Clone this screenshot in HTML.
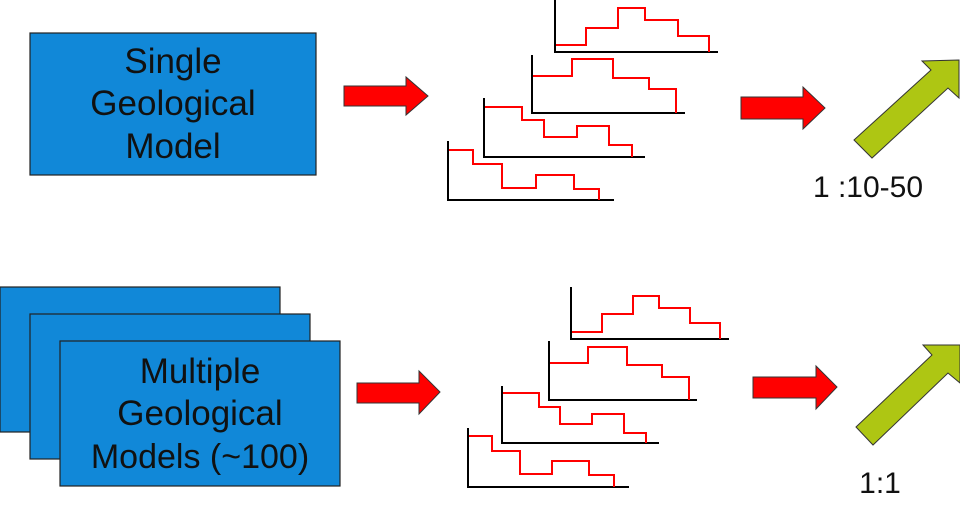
<!DOCTYPE html>
<html><head><meta charset="utf-8"><style>
html,body{margin:0;padding:0;background:#fff;}
svg{display:block;font-family:"Liberation Sans",sans-serif;}
</style></head><body>
<svg width="960" height="518" viewBox="0 0 960 518" xmlns="http://www.w3.org/2000/svg">
<g>
<rect x="30" y="33" width="286" height="142" fill="#1188d8" stroke="#222" stroke-width="1.2"/>
<text x="173" y="73" font-size="35" text-anchor="middle" fill="#111">Single</text>
<text x="173" y="115" font-size="35" text-anchor="middle" fill="#111">Geological</text>
<text x="173" y="158" font-size="35" text-anchor="middle" fill="#111">Model</text>
</g>
<g>
<rect x="0" y="287" width="280" height="145" fill="#1188d8" stroke="#222" stroke-width="1.2"/>
<rect x="30" y="314" width="280" height="145" fill="#1188d8" stroke="#222" stroke-width="1.2"/>
<rect x="60" y="341" width="280" height="145" fill="#1188d8" stroke="#222" stroke-width="1.2"/>
<text x="200" y="383" font-size="35" text-anchor="middle" fill="#111">Multiple</text>
<text x="200" y="425" font-size="35" text-anchor="middle" fill="#111">Geological</text>
<text x="200" y="468" font-size="34" text-anchor="middle" fill="#111">Models (~100)</text>
</g>
<g fill="#ff0000" stroke="#333" stroke-width="1">
<polygon points="344,86 406,86 406,77 428,96 406,115 406,106 344,106"/>
<polygon points="741,97 803,97 803,87 825,108 803,129 803,119 741,119"/>
<polygon points="357,383 419,383 419,371 440,392 419,414 419,403 357,403"/>
<polygon points="753,377 816,377 816,366 837,387 816,409 816,398 753,398"/>
</g>
<g fill="#aec613" stroke="#333" stroke-width="1">
<polygon points="854,140 931,70 922,61 959,60 959,98 948,88 872,158"/>
<polygon points="856,427 932,355 923,345 960,345 960,383 948,373 873,445"/>
</g>
<text x="868" y="197" font-size="30" text-anchor="middle" fill="#111">1 :10-50</text>
<text x="880" y="493" font-size="30" text-anchor="middle" fill="#111">1:1</text>
<g id="charts" fill="none"></g>
</svg>
<script>
// each mini chart: axis origin & extents, step x breaks, step y levels
const chartAxes=[[555,0,52,718],[532,55,113,685],[484,98,157,645],[448,141,200,614],
 [571,287,339,729],[549,341,400,697],[502,386,443,659],[468,428,487,629]];
const stepX=[[556,586,618,645,678,709],[533,572,613,649,676],[485,522,544,577,609,632],[449,473,502,536,574,599],
 [572,602,633,659,690,720],[550,588,627,662,689],[503,539,560,592,624,646],[469,492,520,552,589,614]];
const stepY=[[45,28,8,20,36],[76,59,78,89],[107,120,137,126,145],[150,164,188,175,189],
 [332,314,296,308,323],[363,347,365,377],[393,407,424,414,433],[436,451,474,461,475]];
const g=document.getElementById('charts');
const NS='http://www.w3.org/2000/svg';
chartAxes.forEach((a,i)=>{
  const ax=document.createElementNS(NS,'path');
  ax.setAttribute('d',`M${a[0]},${a[1]}V${a[2]}H${a[3]}`);
  ax.setAttribute('stroke','#000');ax.setAttribute('stroke-width','2');
  
  
  g.appendChild(ax);
  const xs=stepX[i],ys=stepY[i];
  let d=`M${xs[0]},${ys[0]}`;
  for(let k=1;k<xs.length;k++){d+=`H${xs[k]}`;d+= k<ys.length?`V${ys[k]}`:`V${a[2]}`;}
  const p=document.createElementNS(NS,'path');
  p.setAttribute('d',d);p.setAttribute('stroke','#ff0000');p.setAttribute('stroke-width','2');
  
  
  g.appendChild(p);
});
</script>
</body></html>
